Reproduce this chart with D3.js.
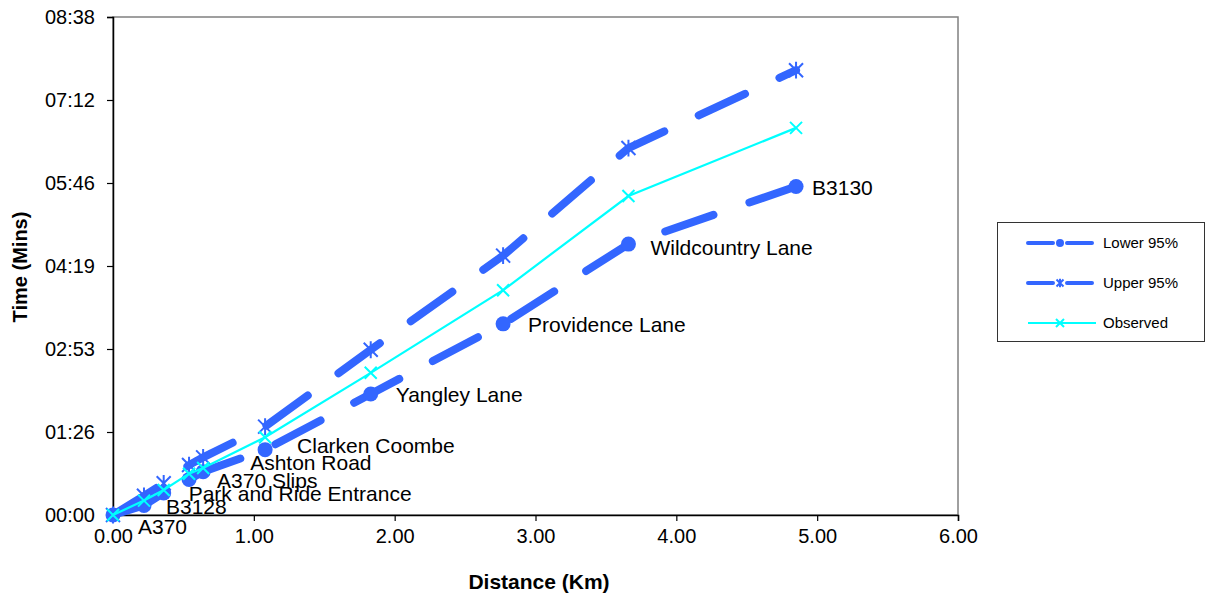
<!DOCTYPE html>
<html>
<head>
<meta charset="utf-8" />
<title>Time vs Distance</title>
<script src="https://d3js.org/d3.v7.min.js"></script>
<style>
  body { margin: 0; background: #fff; }
  text { font-family: "Liberation Sans", Arial, sans-serif; fill: #000; }
  .tick-label { font-size: 20px; }
  .axis-title { font-size: 20px; font-weight: bold; }
  .data-label { font-size: 21px; }
  .legend-text { font-size: 15px; }
</style>
</head>
<body>
<div id="chart"></div>
<script>

// stops along the route (labels on the Lower 95% series)
var stops = ["A370", "B3128", "Park and Ride Entrance", "A370 Slips", "Ashton Road",
             "Clarken Coombe", "Yangley Lane", "Providence Lane", "Wildcountry Lane", "B3130"];
// distance in km
var distanceKm = [0, 0.22, 0.36, 0.54, 0.64, 1.08, 1.83, 2.77, 3.66, 4.85];
// times in seconds
var lowerSec    = [0, 10, 23, 37, 45, 68, 126, 199, 282, 342];
var upperSec    = [0, 20, 33, 52, 60, 92, 172, 270, 382, 463];
var observedSec = [0, 15, 26, 43, 49, 81, 148, 234, 332, 403];

var xTicks = [0, 1, 2, 3, 4, 5, 6];
var yTicks = [0, 86.4, 172.8, 259.2, 345.6, 432, 518.4];

// label nudges (pixels, from the point)
var labelDx = [25, 22, 25, 28, 47, 32, 25, 25, 22, 16];
var labelDy = [12, 1, 1, 1, -9, -4, 1, 1, 4, 1];

var W = 1206, H = 598;
var margin = {top: 17, right: 248, bottom: 83, left: 113},
    width = W - margin.left - margin.right,
    height = H - margin.top - margin.bottom;

var svg = d3.select("#chart").append("svg")
    .attr("width", W)
    .attr("height", H);

var g = svg.append("g")
    .attr("transform", "translate(" + margin.left + "," + margin.top + ")");

var x = d3.scaleLinear().domain([0, 6]).range([0, width]);
var y = d3.scaleLinear().domain([0, 518.4]).range([height, 0]);

function mmss(s) {
  var t = Math.round(s);
  var m = Math.floor(t / 60), sec = t % 60;
  return (m < 10 ? "0" : "") + m + ":" + (sec < 10 ? "0" : "") + sec;
}

// plot area border (grey, top & right)
g.append("rect")
  .attr("x", 0).attr("y", 0)
  .attr("width", width).attr("height", height)
  .style("fill", "none")
  .style("stroke", "#808080")
  .style("stroke-width", 1.5);

// X axis
var xAxis = g.append("g")
  .attr("transform", "translate(0," + height + ")")
  .call(d3.axisBottom(x).tickValues(xTicks).tickSize(6).tickPadding(8)
    .tickFormat(function(d) { return d3.format(".2f")(d); }));
xAxis.select(".domain").style("stroke", "#000").style("stroke-width", 1.5);
xAxis.selectAll(".tick line").style("stroke", "#000").style("stroke-width", 1.2);
xAxis.selectAll("text").attr("class", "tick-label");
xAxis.attr("font-family", null).attr("font-size", null);

// Y axis
var yAxis = g.append("g")
  .call(d3.axisLeft(y).tickValues(yTicks).tickSize(6).tickPadding(12)
    .tickFormat(mmss));
yAxis.select(".domain").style("stroke", "#000").style("stroke-width", 1.5);
yAxis.selectAll(".tick line").style("stroke", "#000").style("stroke-width", 1.2);
yAxis.selectAll("text").attr("class", "tick-label");
yAxis.attr("font-family", null).attr("font-size", null);

// axis titles
svg.append("text")
  .attr("class", "axis-title")
  .attr("text-anchor", "middle")
  .attr("x", 539)
  .attr("y", 589)
  .style("font-size", "21px")
  .text("Distance (Km)");

svg.append("text")
  .attr("class", "axis-title")
  .attr("text-anchor", "middle")
  .attr("transform", "translate(27," + (margin.top + height / 2 + 1) + ") rotate(-90)")
  .text("Time (Mins)");

var blue = "#3366FF", cyan = "#00FFFF";

function pts(vals) {
  return vals.map(function(v, i) { return [distanceKm[i], v]; });
}
var line = d3.line()
  .x(function(d) { return x(d[0]); })
  .y(function(d) { return y(d[1]); });

// Lower 95%
g.append("path")
  .datum(pts(lowerSec))
  .attr("d", line)
  .style("fill", "none")
  .style("stroke", blue)
  .style("stroke-width", 8)
  .style("stroke-linecap", "round")
  .style("stroke-dasharray", "51,38");

g.append("g").selectAll("circle")
  .data(pts(lowerSec))
  .enter().append("circle")
    .attr("cx", function(d) { return x(d[0]); })
    .attr("cy", function(d) { return y(d[1]); })
    .attr("r", 7.5)
    .style("fill", blue);

// Upper 95%
g.append("path")
  .datum(pts(upperSec))
  .attr("d", line)
  .style("fill", "none")
  .style("stroke", blue)
  .style("stroke-width", 8)
  .style("stroke-linecap", "round")
  .style("stroke-dasharray", "51,38");

function starPath(s) {
  return "M" + (-s) + "," + (-s) + "L" + s + "," + s +
         "M" + (-s) + "," + s + "L" + s + "," + (-s) +
         "M0," + (-s * 1.2) + "L0," + (s * 1.2);
}
function crossPath(s) {
  return "M" + (-s) + "," + (-s) + "L" + s + "," + s +
         "M" + (-s) + "," + s + "L" + s + "," + (-s);
}

g.append("g").selectAll("path")
  .data(pts(upperSec))
  .enter().append("path")
    .attr("transform", function(d) { return "translate(" + x(d[0]) + "," + y(d[1]) + ")"; })
    .attr("d", starPath(7))
    .style("fill", "none")
    .style("stroke", blue)
    .style("stroke-width", 2);

// Observed
g.append("path")
  .datum(pts(observedSec))
  .attr("d", line)
  .style("fill", "none")
  .style("stroke", cyan)
  .style("stroke-width", 2.2);

g.append("g").selectAll("path")
  .data(pts(observedSec))
  .enter().append("path")
    .attr("transform", function(d) { return "translate(" + x(d[0]) + "," + y(d[1]) + ")"; })
    .attr("d", crossPath(6))
    .style("fill", "none")
    .style("stroke", cyan)
    .style("stroke-width", 2);

// data labels
g.append("g").selectAll("text")
  .data(stops)
  .enter().append("text")
    .attr("class", "data-label")
    .attr("x", function(d, i) { return x(distanceKm[i]) + labelDx[i]; })
    .attr("y", function(d, i) { return y(lowerSec[i]) + labelDy[i]; })
    .attr("dy", "0.35em")
    .text(function(d) { return d; });

// legend
var legendItems = [
  {name: "Lower 95%", color: blue, w: 4, dashed: true, marker: "circle"},
  {name: "Upper 95%", color: blue, w: 4, dashed: true, marker: "star"},
  {name: "Observed", color: cyan, w: 2.2, dashed: false, marker: "cross"}
];

var legend = svg.append("g").attr("transform", "translate(997,222)");
legend.append("rect")
  .attr("x", 0.5).attr("y", 0.5)
  .attr("width", 207).attr("height", 119)
  .style("fill", "#fff")
  .style("stroke", "#333")
  .style("stroke-width", 1);

var li = legend.selectAll(".legend-item")
  .data(legendItems)
  .enter().append("g")
    .attr("class", "legend-item")
    .attr("transform", function(d, i) { return "translate(0," + (21 + i * 40) + ")"; });

li.append("line")
  .attr("x1", 31).attr("x2", 99)
  .attr("y1", 0).attr("y2", 0)
  .style("stroke", function(d) { return d.color; })
  .style("stroke-width", function(d) { return d.w; })
  .style("stroke-linecap", function(d) { return d.dashed ? "round" : "butt"; })
  .style("stroke-dasharray", function(d) { return d.dashed ? "25,14" : null; });

li.each(function(d) {
  var sel = d3.select(this);
  if (d.marker === "circle") {
    sel.append("circle").attr("cx", 63).attr("cy", 0).attr("r", 4).style("fill", d.color);
  } else {
    sel.append("path")
      .attr("transform", "translate(63,0)")
      .attr("d", d.marker === "star" ? starPath(3.5) : crossPath(4))
      .style("fill", "none")
      .style("stroke", d.color)
      .style("stroke-width", 2);
  }
});

li.append("text")
  .attr("class", "legend-text")
  .attr("x", 106)
  .attr("y", 0)
  .attr("dy", "0.35em")
  .text(function(d) { return d.name; });

</script>
</body>
</html>
